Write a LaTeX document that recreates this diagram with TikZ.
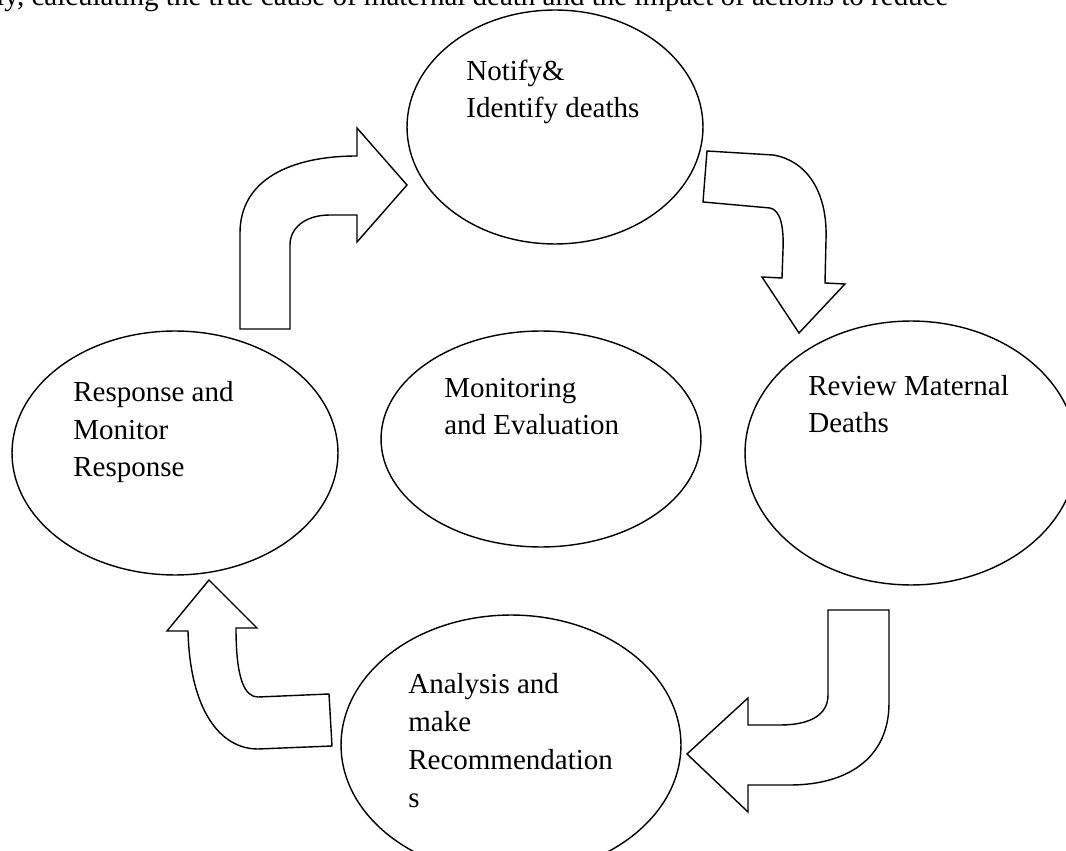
\documentclass[tikz,border=0pt]{standalone}
\usepackage{fontspec}
\setmainfont{Liberation Serif}
\usetikzlibrary{shapes.geometric}

\begin{document}
\begin{tikzpicture}[x=0.02cm,y=-0.02cm]
 \tikzstyle{stage} = [ellipse,draw=black,line width=0.8pt,inner sep=0pt,outer sep=0pt];
 \tikzstyle{stagetext} = [anchor=base west,align=left,inner sep=0pt,font=\fontsize{16.5}{21.6}\selectfont];
 \tikzstyle{bigarrow} = [draw=black,fill=white,line width=0.8pt,line join=miter];

 \useasboundingbox (0,0) rectangle (1066,851);
 \clip (0,0) rectangle (1066,851);

 % line of the page above, cut off
 \node[stagetext] (pagetext) at (-4,6)
   {ly, calculating the true cause of maternal death and the impact of actions to reduce};

 % the five stages
 \node[stage,minimum width=5.92cm,minimum height=4.68cm] (notify)  at (555,127) {};
 \node[stage,minimum width=6.64cm,minimum height=5.28cm] (review)  at (911,453) {};
 \node[stage,minimum width=6.40cm,minimum height=4.32cm] (monitor) at (541,439) {};
 \node[stage,minimum width=6.52cm,minimum height=4.88cm] (respond) at (175,453) {};
 \node[stage,minimum width=6.80cm,minimum height=5.20cm] (analyse) at (511,745) {};

 % block arrows round the cycle
 \draw[bigarrow] (240,329) -- (240,233) .. controls (240,180) and (290,156) .. (357,156)
   -- (357,128) -- (407,185) -- (357,242) -- (357,215) -- (330,215)
   .. controls (305,215) and (290,228) .. (290,245) -- (290,329) -- cycle;
 \draw[bigarrow] (707,151) -- (773,155) .. controls (805,160) and (828,190) .. (826,240)
   -- (825,283) -- (845,284) -- (799,333) -- (762,277) -- (782,278) -- (783,250)
   .. controls (784,225) and (780,210) .. (770,208) -- (703,202) -- cycle;
 \draw[bigarrow] (828,610) -- (889,610) -- (889,703) .. controls (889,760) and (845,785) .. (790,785)
   -- (748,785) -- (748,812) -- (687,754) -- (748,698) -- (748,725) -- (780,725)
   .. controls (810,725) and (828,715) .. (828,695) -- cycle;
 \draw[bigarrow] (188,631) .. controls (190,710) and (220,749) .. (258,749) -- (332,746)
   -- (329,694) -- (258,697) .. controls (245,697) and (236,680) .. (236,628)
   -- (257,628) -- (209,580) -- (167,631) -- cycle;

 % texts (base = last line)
 \node[stagetext] (notifytxt)  at (466,118) {Notify\&\\Identify deaths};
 \node[stagetext] (reviewtxt)  at (808,433) {Review Maternal\\Deaths};
 \node[stagetext] (monitortxt) at (444,435) {Monitoring\\and Evaluation};
 \node[stagetext] (respondtxt) at (73,477)  {Response and\\Monitor\\Response};
 \node[stagetext] (analysetxt) at (408,807) {Analysis and\\make\\Recommendation\\s};
\end{tikzpicture}
\end{document}
